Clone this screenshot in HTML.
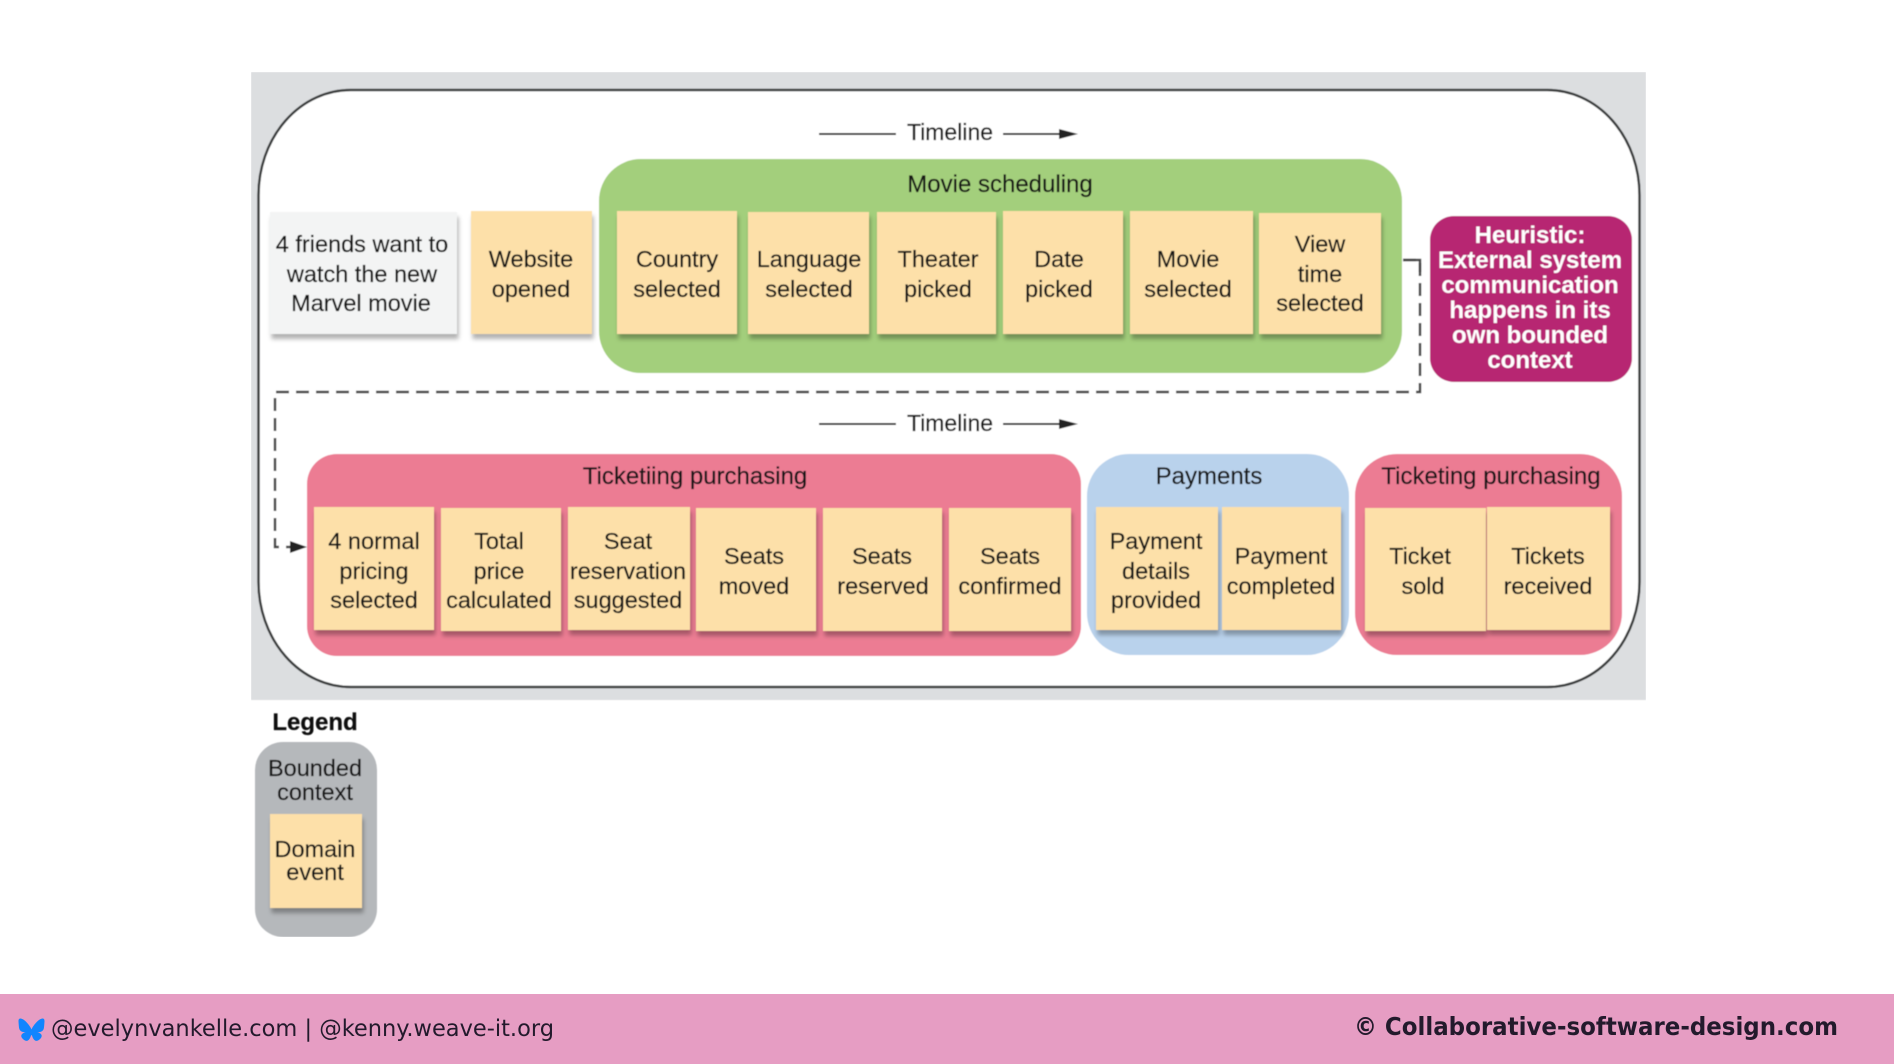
<!DOCTYPE html>
<html lang="en"><head><meta charset="utf-8"><title>Timeline with bounded contexts</title>
<style>
html,body{margin:0;padding:0;background:#fff;width:1894px;height:1064px;overflow:hidden}
svg{display:block}
text{font-family:"Liberation Sans",sans-serif;font-size:23.5px;fill:#161616;stroke:#161616;stroke-width:.25px;text-anchor:middle}
.s{fill:#fde0a9;filter:url(#sh)}
.hd{font-size:24px}
.tl{font-size:23px}
.h{font-weight:bold;fill:#fff;stroke:none;font-size:24px}
.ft{font-family:"DejaVu Sans",sans-serif;font-size:23px;fill:#231a2c;stroke:none;text-anchor:start}
</style></head><body>
<svg width="1894" height="1064" viewBox="0 0 1894 1064" xmlns="http://www.w3.org/2000/svg">
<defs>
<filter id="sh" x="-10%" y="-10%" width="125%" height="125%"><feDropShadow dx="1.5" dy="5" stdDeviation="2.200" flood-color="#000" flood-opacity=".3"/></filter>
<filter id="b" x="0" y="0" width="100%" height="100%"><feGaussianBlur stdDeviation="0.5"/></filter>
</defs>
<rect width="1894" height="1064" fill="#fff"/>
<g filter="url(#b)">
<rect x="251" y="72" width="1395" height="628" fill="#dcdee0"/>
<rect x="258.500" y="90" width="1381" height="597" rx="92" ry="105" fill="#fff" stroke="#3a3c3e" stroke-width="2.500"/>

<!-- Timelines -->
<g stroke="#222" stroke-width="2" fill="#222">
<line x1="819" y1="134" x2="896" y2="134"/><line x1="1003" y1="134" x2="1062" y2="134"/>
<polygon stroke="none" points="1059,129 1078,134 1059,139"/>
<line x1="819" y1="424" x2="896" y2="424"/><line x1="1003" y1="424" x2="1062" y2="424"/>
<polygon stroke="none" points="1059,419 1078,424 1059,429"/>
</g>
<text class="tl" x="950" y="140">Timeline</text>
<text class="tl" x="950" y="431">Timeline</text>

<!-- Groups -->
<rect x="599" y="159" width="803" height="214" rx="42" fill="#a3cf7b"/>
<rect x="307" y="454" width="774" height="202" rx="30" fill="#ec7c93"/>
<rect x="1087" y="454" width="262" height="201" rx="42" fill="#b9d2ec"/>
<rect x="1355" y="454" width="267" height="201" rx="42" fill="#ec7c93"/>
<rect x="1430" y="216" width="202" height="166" rx="24" fill="#b72672"/>

<!-- Connector -->
<path d="M1403 260H1420V392H275V547H296" fill="none" stroke="#444" stroke-width="2.500" stroke-dasharray="13 7"/>
<path d="M1403 260H1420V272" fill="none" stroke="#444" stroke-width="2.500"/>
<polygon points="290,541 307,547 290,553" fill="#222"/>

<!-- Row 1 stickies -->
<rect x="270" y="212" width="187" height="122" fill="#f3f4f4" filter="url(#sh)"/>
<rect class="s" x="471" y="211" width="121" height="123"/>
<rect class="s" x="617" y="211" width="120" height="123"/>
<rect class="s" x="748" y="212" width="121" height="122"/>
<rect class="s" x="877" y="212" width="119" height="122"/>
<rect class="s" x="1003" y="211" width="120" height="123"/>
<rect class="s" x="1130" y="211" width="123" height="123"/>
<rect class="s" x="1259" y="213" width="122" height="121"/>

<text class="hd" x="1000" y="192">Movie scheduling</text>
<text x="362" y="252">4 friends want to</text><text x="362" y="282">watch the new</text><text x="361" y="311">Marvel movie</text>
<text x="531" y="267">Website</text><text x="531" y="297">opened</text>
<text x="677" y="267">Country</text><text x="677" y="297">selected</text>
<text x="809" y="267">Language</text><text x="809" y="297">selected</text>
<text x="938" y="267">Theater</text><text x="938" y="297">picked</text>
<text x="1059" y="267">Date</text><text x="1059" y="297">picked</text>
<text x="1188" y="267">Movie</text><text x="1188" y="297">selected</text>
<text x="1320" y="252">View</text><text x="1320" y="282">time</text><text x="1320" y="311">selected</text>

<text class="h" x="1530" y="243">Heuristic:</text>
<text class="h" x="1530" y="268">External system</text>
<text class="h" x="1530" y="293">communication</text>
<text class="h" x="1530" y="318">happens in its</text>
<text class="h" x="1530" y="343">own bounded</text>
<text class="h" x="1530" y="368">context</text>

<!-- Row 2 stickies -->
<rect class="s" x="314" y="507" width="120" height="123"/>
<rect class="s" x="441" y="508" width="120" height="123"/>
<rect class="s" x="568" y="507" width="122" height="123"/>
<rect class="s" x="696" y="508" width="120" height="123"/>
<rect class="s" x="823" y="508" width="119" height="123"/>
<rect class="s" x="949" y="508" width="122" height="123"/>
<rect class="s" x="1096" y="507" width="122" height="123"/>
<rect class="s" x="1222" y="507" width="119" height="123"/>
<rect class="s" x="1365" y="508" width="121" height="123"/>
<rect class="s" x="1487" y="507" width="123" height="123"/>

<text class="hd" x="695" y="484">Ticketiing purchasing</text>
<text class="hd" x="1209" y="484">Payments</text>
<text class="hd" x="1491" y="484">Ticketing purchasing</text>

<text x="374" y="549">4 normal</text><text x="374" y="579">pricing</text><text x="374" y="608">selected</text>
<text x="499" y="549">Total</text><text x="499" y="579">price</text><text x="499" y="608">calculated</text>
<text x="628" y="549">Seat</text><text x="628" y="579">reservation</text><text x="628" y="608">suggested</text>
<text x="754" y="564">Seats</text><text x="754" y="594">moved</text>
<text x="882" y="564">Seats</text><text x="883" y="594">reserved</text>
<text x="1010" y="564">Seats</text><text x="1010" y="594">confirmed</text>
<text x="1156" y="549">Payment</text><text x="1156" y="579">details</text><text x="1156" y="608">provided</text>
<text x="1281" y="564">Payment</text><text x="1281" y="594">completed</text>
<text x="1420" y="564">Ticket</text><text x="1423" y="594">sold</text>
<text x="1548" y="564">Tickets</text><text x="1548" y="594">received</text>

<!-- Legend -->
<text x="315" y="730" style="font-weight:bold;font-size:24px;fill:#111">Legend</text>
<rect x="255" y="742" width="122" height="195" rx="28" fill="#b5b8bb"/>
<rect class="s" x="270" y="814" width="92" height="94"/>
<text x="315" y="776">Bounded</text><text x="315" y="800">context</text>
<text x="315" y="857">Domain</text><text x="315" y="880">event</text>
</g>

<!-- Footer -->
<rect x="0" y="994" width="1894" height="70" fill="#e69dc3"/>
<path d="M24 1020c3 2.200 6.500 6.800 7.500 9.500 1-2.700 4.500-7.300 7.500-9.500 2.200-1.600 5.500-2.800 5.500 1.100 0 .8-.4 6.500-.7 7.400-.9 3.300-4.200 4.100-7.200 3.600 5.200.9 6.500 3.800 3.700 6.700-5.400 5.500-7.700-1.400-8.300-3.200-.1-.3-.2-.5-.5-.5s-.4.2-.5.500c-.6 1.800-2.900 8.700-8.300 3.200-2.800-2.900-1.500-5.800 3.700-6.700-3 .5-6.300-.3-7.200-3.600-.3-.9-.7-6.600-.7-7.400 0-3.900 3.300-2.700 5.500-1.100z" fill="#1185fe"/>
<text class="ft" x="51" y="1036" textLength="503" lengthAdjust="spacingAndGlyphs">@evelynvankelle.com | @kenny.weave-it.org</text>
<text class="ft" x="1354" y="1035" textLength="484" lengthAdjust="spacingAndGlyphs" style="font-weight:bold;font-size:25px">© Collaborative-software-design.com</text>
</svg>
</body></html>
